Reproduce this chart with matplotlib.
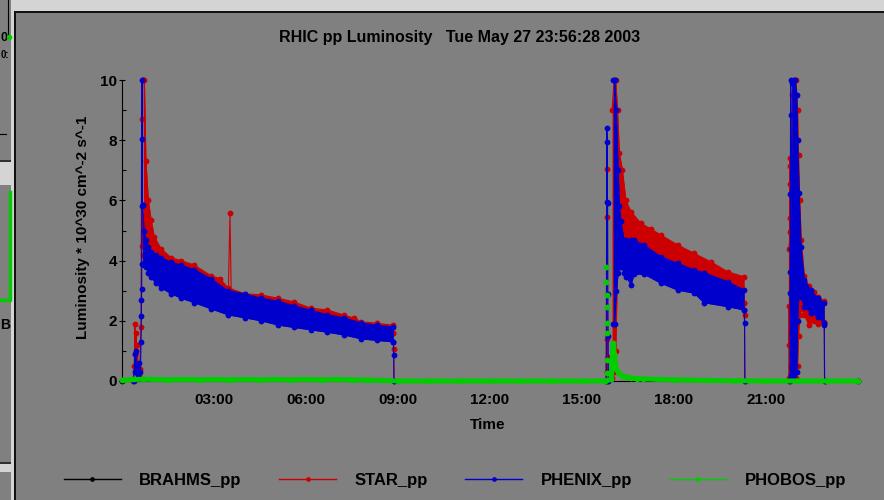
import matplotlib
matplotlib.use("Agg")
import matplotlib.pyplot as plt
from matplotlib.lines import Line2D
from matplotlib.patches import Rectangle
from matplotlib.ticker import FixedLocator, MultipleLocator

plt.rcParams['font.family'] = ['Liberation Sans', 'DejaVu Sans']
plt.rcParams['font.weight'] = 'bold'

# ---------------- text ----------------
TITLE = "RHIC pp Luminosity   Tue May 27 23:56:28 2003"
XLABEL = "Time"
YLABEL = "Luminosity * 10^30 cm^-2 s^-1"
SERIES = ["BRAHMS_pp", "STAR_pp", "PHENIX_pp", "PHOBOS_pp"]
XTICKS = [3, 6, 9, 12, 15, 18, 21]
XTICK_LABELS = ["03:00", "06:00", "09:00", "12:00", "15:00", "18:00", "21:00"]
YTICKS = [0, 2, 4, 6, 8, 10]

# ---------------- data (time in hours of May 27) ----------------
BRAHMS_T = [0.0, 24.0]
BRAHMS_V = [0.0, 0.0]

# STAR fill 1
STAR_F1_PRE_T = [0.36, 0.40, 0.42, 0.44, 0.46, 0.48, 0.50, 0.54, 0.58, 0.62, 0.64, 0.66, 0.68, 0.70]
STAR_F1_PRE_V = [0.0, 0.5, 1.9, 0.9, 1.6, 0.3, 1.2, 0.2, 0.4, 1.8, 8.7, 4.5, 10.0, 10.0]
STAR_F1_T = [0.70, 0.73, 0.78, 0.86, 0.95, 1.05, 1.27, 1.60, 1.93, 2.36, 2.90, 3.20, 3.45,
             4.00, 4.53, 5.09, 5.60, 6.16, 6.70, 7.24, 7.57, 7.80, 8.30, 8.85]
STAR_F1_HI = [10.0, 10.0, 7.3, 6.0, 5.35, 4.8, 4.4, 4.1, 4.0, 3.85, 3.5, 3.4, 3.1,
              2.9, 2.86, 2.75, 2.63, 2.42, 2.36, 2.19, 2.09, 1.97, 1.92, 1.85]
STAR_F1_LO = [4.2, 4.2, 4.1, 4.0, 3.9, 3.7, 3.5, 3.3, 3.1, 3.0, 2.8, 2.7, 2.5,
              2.4, 2.3, 2.2, 2.1, 2.0, 1.9, 1.8, 1.75, 1.7, 1.65, 1.6]
STAR_SPIKE_T = [3.47, 3.52, 3.56]
STAR_SPIKE_V = [3.05, 5.57, 3.0]
STAR_F1_END_T = [8.85, 8.86, 8.87]
STAR_F1_END_V = [1.6, 1.05, 0.0]

# STAR fill 2
STAR_F2_PRE_T = [15.78, 15.80, 15.81, 15.82, 15.83, 15.84, 15.85]
STAR_F2_PRE_V = [0.0, 1.4, 0.3, 7.04, 5.46, 0.8, 0.0]
STAR_F2_T = [15.98, 16.05, 16.10, 16.16, 16.22, 16.32, 16.43, 16.60, 16.92, 17.25, 17.57,
             18.12, 18.66, 19.20, 19.75, 20.29]
STAR_F2_HI = [9.0, 10.0, 10.0, 9.0, 7.57, 7.0, 6.0, 5.62, 5.24, 5.05, 4.85,
              4.52, 4.24, 3.96, 3.63, 3.46]
STAR_F2_LO = [0.1, 0.3, 1.0, 3.8, 4.2, 4.2, 4.0, 3.9, 3.9, 3.8, 3.6,
              3.4, 3.2, 3.0, 2.8, 2.6]
STAR_F2_END_T = [20.29, 20.30, 20.31]
STAR_F2_END_V = [2.6, 2.19, 0.0]

# STAR fill 3
STAR_F3_PRE_T = [21.74, 21.75, 21.76, 21.77, 21.775, 21.78, 21.785, 21.79, 21.80]
STAR_F3_PRE_V = [0.0, 2.5, 1.2, 7.4, 7.14, 6.54, 5.4, 4.94, 0.5]
STAR_F3_T = [21.75, 21.80, 21.86, 21.92, 21.98, 22.03, 22.06, 22.10, 22.15, 22.25,
             22.40, 22.55, 22.70, 22.90]
STAR_F3_HI = [4.4, 5.0, 9.5, 10.0, 10.0, 9.0, 7.5, 6.0, 4.7, 3.5, 3.15, 2.95, 2.8, 2.65]
STAR_F3_LO = [0.1, 0.1, 0.1, 0.1, 0.1, 0.5, 1.5, 2.2, 2.4, 2.2, 1.85, 2.0, 1.9, 1.95]
STAR_F3_END_T = [22.90, 22.91]
STAR_F3_END_V = [1.9, 0.0]

# PHENIX fill 1
PHENIX_F1_PRE_T = [0.38, 0.42, 0.44, 0.46, 0.48, 0.52, 0.56, 0.60, 0.62, 0.63, 0.635,
                   0.64, 0.645, 0.65, 0.655, 0.66, 0.67]
PHENIX_F1_PRE_V = [0.0, 0.9, 0.3, 1.0, 0.5, 0.2, 0.6, 0.3, 1.3, 2.15, 2.7,
                   3.05, 3.9, 8.05, 10.0, 5.8, 5.85]
PHENIX_F1_T = [0.67, 0.72, 0.78, 0.86, 0.95, 1.10, 1.27, 1.60, 1.93, 2.36, 2.90, 3.45,
               4.00, 4.53, 5.09, 5.60, 6.16, 6.70, 7.24, 7.80, 8.30, 8.85]
PHENIX_F1_HI = [5.85, 5.0, 4.7, 4.45, 4.3, 4.2, 4.1, 3.95, 3.85, 3.7, 3.4, 3.0,
                2.9, 2.75, 2.65, 2.5, 2.35, 2.2, 2.1, 1.93, 1.85, 1.8]
PHENIX_F1_LO = [3.9, 3.85, 3.8, 3.6, 3.45, 3.25, 3.1, 2.9, 2.75, 2.6, 2.4, 2.2,
                2.1, 2.0, 1.86, 1.78, 1.7, 1.62, 1.53, 1.4, 1.35, 1.3]
PHENIX_F1_END_T = [8.85, 8.86, 8.87]
PHENIX_F1_END_V = [1.3, 0.85, 0.0]

# PHENIX fill 2
PHENIX_F2_PRE_T = [15.79, 15.81, 15.82, 15.83, 15.835, 15.84, 15.85, 15.86]
PHENIX_F2_PRE_V = [0.0, 8.4, 7.95, 5.95, 5.9, 2.9, 1.5, 0.0]
PHENIX_F2_T = [16.02, 16.06, 16.12, 16.18, 16.22, 16.27, 16.37, 16.45, 16.60, 16.70,
               17.02, 17.57, 18.12, 18.66, 18.98, 19.75, 20.29]
PHENIX_F2_HI = [10.0, 10.0, 9.0, 7.0, 5.8, 5.3, 4.7, 4.7, 4.68, 4.68,
                4.52, 4.13, 3.91, 3.69, 3.6, 3.3, 3.02]
PHENIX_F2_LO = [1.9, 1.9, 3.0, 3.6, 3.8, 3.8, 3.6, 3.45, 3.2, 3.55,
                3.55, 3.25, 3.02, 2.92, 2.6, 2.47, 2.36]
PHENIX_F2_END_T = [20.29, 20.30, 20.31]
PHENIX_F2_END_V = [2.36, 1.93, 0.0]

# PHENIX fill 3
PHENIX_F3_PRE_T = [21.78, 21.785, 21.79, 21.795, 21.80, 21.805, 21.81]
PHENIX_F3_PRE_V = [0.0, 2.91, 3.63, 6.2, 8.84, 10.0, 0.2]
PHENIX_F3_T = [21.80, 21.86, 21.90, 21.95, 22.00, 22.03, 22.08, 22.14, 22.25, 22.47,
               22.68, 22.90]
PHENIX_F3_HI = [4.4, 9.9, 10.0, 10.0, 9.5, 8.0, 6.24, 4.46, 3.36, 3.02, 2.76, 2.6]
PHENIX_F3_LO = [0.1, 0.1, 0.2, 0.5, 0.3, 2.0, 3.0, 2.8, 2.47, 2.26, 2.14, 1.93]
PHENIX_F3_END_T = [22.90, 22.91]
PHENIX_F3_END_V = [1.86, 0.0]

# PHOBOS baseline (incl. decay after the second fill)
PHOBOS_T = [0.0, 0.4, 0.7, 1.0, 1.5, 2.0, 2.5, 3.0, 3.5, 4.0, 4.5, 5.0, 5.5, 6.0, 6.5,
            7.0, 7.5, 8.0, 8.5, 9.0, 10.0, 11.0, 12.0, 13.0, 14.0, 15.0, 15.75,
            15.95, 16.02, 16.05, 16.08, 16.12, 16.20, 16.30, 16.45, 16.60, 16.80,
            17.0, 17.5, 18.0, 19.0, 20.0, 21.0, 22.0, 23.0, 24.0]
PHOBOS_V = [0.02, 0.05, 0.06, 0.05, 0.04, 0.05, 0.04, 0.05, 0.04, 0.05, 0.04, 0.05, 0.04, 0.05, 0.04,
            0.05, 0.04, 0.03, 0.02, 0.0, 0.0, 0.0, 0.0, 0.0, 0.0, 0.0, 0.0,
            0.05, 1.25, 0.9, 0.6, 0.4, 0.25, 0.18, 0.13, 0.1, 0.08,
            0.07, 0.05, 0.04, 0.02, 0.01, 0.0, 0.0, 0.0, 0.0]
# PHOBOS points just before the second fill
PHOBOS_F2_PRE_T = [15.79, 15.795, 15.80, 15.805, 15.81, 15.815, 15.82, 15.825]
PHOBOS_F2_PRE_V = [3.8, 3.3, 2.86, 2.47, 1.93, 1.6, 0.7, 0.26]

# ---------------- style ----------------
BG = '#808080'
C_BRAHMS = '#000000'
C_STAR = '#cc0000'
C_PHENIX = '#0000cc'
C_PHOBOS = '#00cc00'
MS = 4.2
LW = 0.8

fig = plt.figure(figsize=(8.84, 5.0), dpi=100, facecolor=BG)
W, H = 884.0, 500.0
ax = fig.add_axes([122 / W, 1 - 381 / H, (858 - 122) / W, (381 - 80) / H])
ax.set_facecolor('none')


def line(t, v, c, z):
    ax.plot(t, v, '-o', color=c, ms=MS, lw=LW, mew=0, zorder=z, clip_on=False)


def band(t, lo, hi, c, z):
    ax.fill_between(t, lo, hi, color=c, lw=0, zorder=z, clip_on=False)
    line(t, hi, c, z + 0.1)
    line(t, lo, c, z + 0.1)


# BRAHMS
line(BRAHMS_T, BRAHMS_V, C_BRAHMS, 1)
# STAR
line(STAR_F1_PRE_T, STAR_F1_PRE_V, C_STAR, 2)
band(STAR_F1_T, STAR_F1_LO, STAR_F1_HI, C_STAR, 2)
line(STAR_SPIKE_T, STAR_SPIKE_V, C_STAR, 2)
line(STAR_F1_END_T, STAR_F1_END_V, C_STAR, 2)
line(STAR_F2_PRE_T, STAR_F2_PRE_V, C_STAR, 2)
band(STAR_F2_T, STAR_F2_LO, STAR_F2_HI, C_STAR, 2)
line(STAR_F2_END_T, STAR_F2_END_V, C_STAR, 2)
line(STAR_F3_PRE_T, STAR_F3_PRE_V, C_STAR, 2)
band(STAR_F3_T, STAR_F3_LO, STAR_F3_HI, C_STAR, 2)
line(STAR_F3_END_T, STAR_F3_END_V, C_STAR, 2)
# PHENIX
line(PHENIX_F1_PRE_T, PHENIX_F1_PRE_V, C_PHENIX, 3)
band(PHENIX_F1_T, PHENIX_F1_LO, PHENIX_F1_HI, C_PHENIX, 3)
line(PHENIX_F1_END_T, PHENIX_F1_END_V, C_PHENIX, 3)
line(PHENIX_F2_PRE_T, PHENIX_F2_PRE_V, C_PHENIX, 3)
band(PHENIX_F2_T, PHENIX_F2_LO, PHENIX_F2_HI, C_PHENIX, 3)
line(PHENIX_F2_END_T, PHENIX_F2_END_V, C_PHENIX, 3)
line(PHENIX_F3_PRE_T, PHENIX_F3_PRE_V, C_PHENIX, 3)
band(PHENIX_F3_T, PHENIX_F3_LO, PHENIX_F3_HI, C_PHENIX, 3)
line(PHENIX_F3_END_T, PHENIX_F3_END_V, C_PHENIX, 3)
# PHOBOS
ax.plot(PHOBOS_T, PHOBOS_V, '-o', color=C_PHOBOS, lw=3.6, ms=4.2, mew=0, zorder=4,
        clip_on=False, solid_capstyle='butt', solid_joinstyle='miter')
ax.plot(PHOBOS_F2_PRE_T, PHOBOS_F2_PRE_V, 'o', color=C_PHOBOS, ms=MS, mew=0, zorder=4,
        clip_on=False)

ax.set_xlim(0, 24)
ax.set_ylim(0, 10)
for s in ['top', 'right', 'bottom']:
    ax.spines[s].set_visible(False)
ax.spines['left'].set_color('black')
ax.spines['left'].set_linewidth(0.8)
ax.spines['left'].set_zorder(0.5)

ax.yaxis.set_major_locator(FixedLocator(YTICKS))
ax.yaxis.set_minor_locator(MultipleLocator(1))
ax.set_yticklabels([str(v) for v in YTICKS])
ax.tick_params(axis='y', which='major', direction='inout', length=5, width=0.8,
               pad=1, labelsize=11, colors='black')
ax.tick_params(axis='y', which='minor', direction='in', length=3, width=0.8)
ax.set_xticks(XTICKS)
ax.set_xticklabels(XTICK_LABELS)
ax.tick_params(axis='x', length=0, pad=8.5, labelsize=11)
for lab in ax.get_xticklabels() + ax.get_yticklabels():
    lab.set_fontweight('bold')

fig.text(459.5 / W, 1 - 42 / H, TITLE, ha='center', va='baseline', fontsize=11.5,
         fontweight='bold')
fig.text(488 / W, 1 - 425 / H, XLABEL, ha='center', va='center', fontsize=11,
         fontweight='bold')
fig.text(83 / W, 1 - 227 / H, YLABEL, ha='center', va='center', rotation=90,
         fontsize=11, fontweight='bold')

handles = [Line2D([], [], color=c, marker='o', ms=3.4, lw=1, mew=0)
           for c in (C_BRAHMS, C_STAR, C_PHENIX, C_PHOBOS)]
fig.legend(handles, SERIES, loc='center', bbox_to_anchor=(455 / W, 1 - 480 / H),
           ncol=4, frameon=False, handlelength=3.42, handletextpad=1.08,
           columnspacing=2.28, borderpad=0, prop={'size': 12, 'weight': 'bold'})

# ---------------- window frame decorations ----------------
def rect(x0, y0, x1, y1, color, z=20):
    fig.add_artist(Rectangle((x0 / W, 1 - y1 / H), (x1 - x0) / W, (y1 - y0) / H,
                             transform=fig.transFigure, facecolor=color,
                             edgecolor='none', zorder=z))

rect(14, 0, W, 11, '#d4d4d4')
rect(14, 11, W, 13, '#101010')
rect(11, 0, 14, H, '#d4d4d4')
rect(14, 11, 16, H, '#101010')
rect(0, 160, 11, 162, '#303030')
rect(0, 162, 11, 185, '#d4d4d4')
rect(0, 462, 11, 464, '#303030')
rect(0, 464, 11, 472, '#d4d4d4')
fig.add_artist(Line2D([8 / W, 8 / W], [1, 1 - 37 / H], transform=fig.transFigure,
                      color='black', lw=0.8, zorder=21))
fig.add_artist(Line2D([9 / W], [1 - 37 / H], transform=fig.transFigure, color=C_PHOBOS,
                      marker='o', ms=4, mew=0, zorder=21))
fig.add_artist(Line2D([0, 6 / W], [1 - 134 / H, 1 - 134 / H], transform=fig.transFigure,
                      color='black', lw=0.8, zorder=21))
fig.add_artist(Line2D([10 / W, 10 / W, 0], [1 - 192 / H, 1 - 300 / H, 1 - 300 / H],
                      transform=fig.transFigure, color=C_PHOBOS, lw=2.5, zorder=21))
fig.text(0.5 / W, 1 - 38 / H, "0", ha='left', va='center', fontsize=9, fontweight='bold')
fig.text(0.5 / W, 1 - 55 / H, "0:", ha='left', va='center', fontsize=7)
fig.text(0.5 / W, 1 - 325 / H, "B", ha='left', va='center', fontsize=10, fontweight='bold')

fig.savefig('out.png', dpi=100, facecolor=BG)
